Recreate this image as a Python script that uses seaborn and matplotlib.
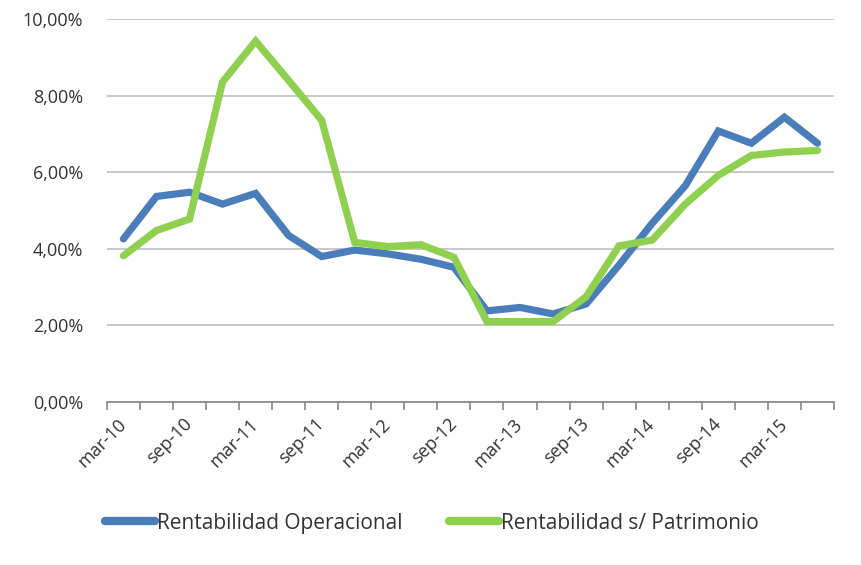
import numpy as np
import pandas as pd
import matplotlib
matplotlib.use("Agg")
import matplotlib.pyplot as plt
import seaborn as sns
from matplotlib.ticker import FuncFormatter, MultipleLocator

# Quarterly periods (mar-10 .. jun-15)
periods = ["mar-10", "jun-10", "sep-10", "dic-10",
           "mar-11", "jun-11", "sep-11", "dic-11",
           "mar-12", "jun-12", "sep-12", "dic-12",
           "mar-13", "jun-13", "sep-13", "dic-13",
           "mar-14", "jun-14", "sep-14", "dic-14",
           "mar-15", "jun-15"]

# Values in %
rent_operacional = [4.26, 5.37, 5.48, 5.17, 5.45, 4.35, 3.80, 3.97, 3.87, 3.73, 3.52,
                    2.38, 2.47, 2.30, 2.56, 3.58, 4.67, 5.65, 7.08, 6.76, 7.44, 6.76]
rent_patrimonio = [3.82, 4.48, 4.78, 8.36, 9.43, 8.40, 7.36, 4.17, 4.06, 4.11, 3.78,
                   2.10, 2.10, 2.10, 2.75, 4.08, 4.23, 5.17, 5.92, 6.44, 6.53, 6.57]

series_names = ["Rentabilidad Operacional", "Rentabilidad s/ Patrimonio"]
colors = ["#4a7ebb", "#8fd14f"]

df = pd.DataFrame({
    "idx": list(range(len(periods))) * 2,
    "valor": rent_operacional + rent_patrimonio,
    "serie": [series_names[0]] * len(periods) + [series_names[1]] * len(periods),
})

sns.set_style("white")
plt.rcParams["font.family"] = ["Open Sans", "DejaVu Sans"]
text_color = "#333333"

fig = plt.figure(figsize=(8.62, 5.65), dpi=100)
ax = fig.add_axes([0.124, 0.2885, 0.8435, 0.6775])

sns.lineplot(data=df, x="idx", y="valor", hue="serie", palette=colors,
             linewidth=5.2, ax=ax, legend=False, solid_joinstyle="miter")

# Axes styling
ax.set_ylim(0, 10)
ax.set_xlim(-0.5, len(periods) - 0.5)
ax.yaxis.set_major_locator(MultipleLocator(2))
ax.yaxis.set_major_formatter(FuncFormatter(lambda v, p: f"{v:.2f}".replace(".", ",") + "%"))
ax.grid(axis="y", color="#bfbfbf", linewidth=1.2)
ax.set_axisbelow(True)
for s in ["top", "right", "left"]:
    ax.spines[s].set_visible(False)
ax.spines["bottom"].set_color("#868686")
ax.spines["bottom"].set_linewidth(1.2)

# Category labels every second quarter, tick marks between categories
ax.set_xticks(range(0, len(periods), 2))
ax.set_xticklabels(periods[::2], rotation=45, ha="right", va="center",
                   rotation_mode="anchor", fontsize=13, color=text_color)
ax.tick_params(axis="x", which="major", bottom=False, length=0, pad=14)
ax.set_xticks(np.arange(-0.5, len(periods), 1), minor=True)
ax.tick_params(axis="x", which="minor", bottom=True, length=6, width=1.2,
               color="#868686", direction="out")
ax.tick_params(axis="y", length=0, labelsize=13, labelcolor=text_color, pad=17)
ax.set_xlabel("")
ax.set_ylabel("")

# Legend
handles = [plt.Line2D([], [], color=c, linewidth=6, solid_capstyle="round") for c in colors]
fig.legend(handles, series_names, loc="center", bbox_to_anchor=(0.501, 0.074), ncol=2,
           frameon=False, fontsize=15, handlelength=2.4, handletextpad=0.12,
           columnspacing=2.2, labelcolor=text_color)

fig.savefig("out.png", dpi=100)
